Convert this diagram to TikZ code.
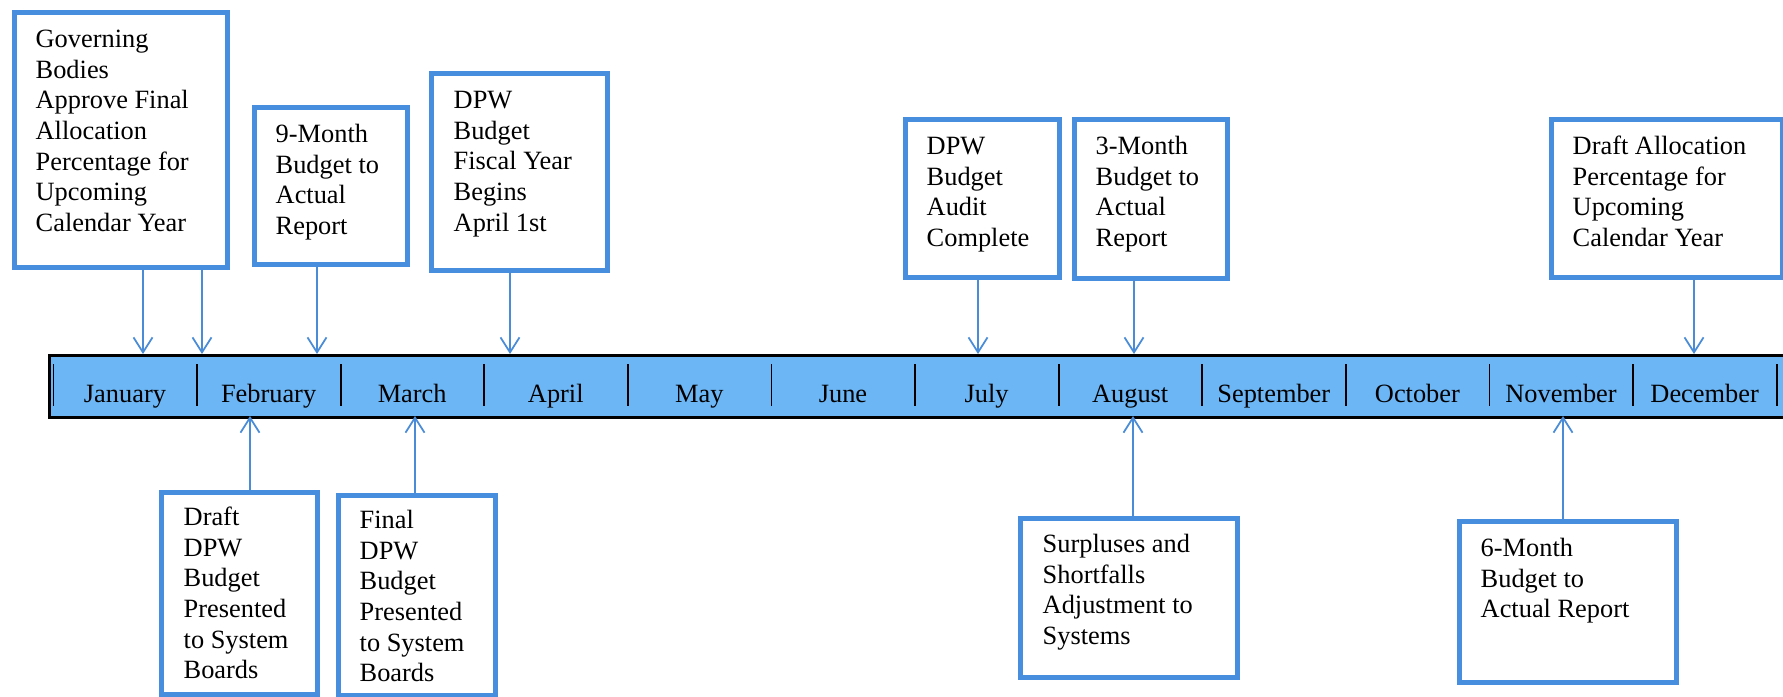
\documentclass[tikz,border=0pt]{standalone}
\usepackage{fontspec}
\setmainfont{Liberation Serif}
\usetikzlibrary{arrows.meta}
\definecolor{boxblue}{RGB}{72,142,222}
\definecolor{barblue}{RGB}{108,182,246}
\definecolor{arrowblue}{RGB}{74,140,214}

\begin{document}
\begin{tikzpicture}[x=0.01cm,y=-0.01cm,
event/.style={draw=boxblue,line width=1.3pt,fill=white,inner sep=0pt,anchor=north west},
eventtext/.style={anchor=north west,align=left,inner sep=0pt,font=\fontsize{7.5}{8.7}\selectfont},
month/.style={anchor=base,inner sep=0pt,font=\fontsize{7.5}{8.7}\selectfont},
timebar/.style={draw=black,line width=0.85pt,fill=barblue,inner sep=0pt,anchor=north west},
pointer/.style={draw=arrowblue,line width=0.45pt,-{Straight Barb[length=0.15cm,width=0.19cm,line width=0.5pt]}}
]
\useasboundingbox (0,0) rectangle (1783,696);

\node[timebar,minimum width=17.34cm,minimum height=0.62cm] (bar) at (48,354) {};
\foreach \k in {0,...,12}
  \draw[line width=0.55pt] ({53.5+143.6*\k},364) -- ({53.5+143.6*\k},406);
\foreach \m [count=\i] in {January,February,March,April,May,June,July,August,September,October,November,December}
  \node[month] (m\i) at ({125+143.6*(\i-1)},402) {\m};

\node[event,minimum width=2.13cm,minimum height=2.55cm] (gov) at (12,10) {};
\node[eventtext] (govtxt) at ([shift={(23,15.5)}]gov.north west) {\strut Governing\\Bodies\\Approve Final\\Allocation\\Percentage for\\Upcoming\\Calendar Year};
\node[event,minimum width=1.53cm,minimum height=1.57cm] (nine) at (252,105) {};
\node[eventtext] (ninetxt) at ([shift={(23,15.5)}]nine.north west) {\strut 9-Month\\Budget to\\Actual\\Report};
\node[event,minimum width=1.76cm,minimum height=1.97cm] (fiscal) at (429,71) {};
\node[eventtext] (fiscaltxt) at ([shift={(24,15.5)}]fiscal.north west) {\strut DPW\\Budget\\Fiscal Year\\Begins\\April 1st};
\node[event,minimum width=1.54cm,minimum height=1.58cm] (audit) at (903,117) {};
\node[eventtext] (audittxt) at ([shift={(23,15.5)}]audit.north west) {\strut DPW\\Budget\\Audit\\Complete};
\node[event,minimum width=1.53cm,minimum height=1.59cm] (three) at (1072,117) {};
\node[eventtext] (threetxt) at ([shift={(23,15.5)}]three.north west) {\strut 3-Month\\Budget to\\Actual\\Report};
\node[event,minimum width=2.31cm,minimum height=1.58cm] (alloc) at (1549,117) {};
\node[eventtext] (alloctxt) at ([shift={(23,15.5)}]alloc.north west) {\strut Draft Allocation\\Percentage for\\Upcoming\\Calendar Year};

\node[event,minimum width=1.56cm,minimum height=2.02cm] (draft) at (159,490) {};
\node[eventtext] (drafttxt) at ([shift={(24,13.5)}]draft.north west) {\strut Draft\\DPW\\Budget\\Presented\\to System\\Boards};
\node[event,minimum width=1.57cm,minimum height=2.00cm] (final) at (336,493) {};
\node[eventtext] (finaltxt) at ([shift={(23,13.5)}]final.north west) {\strut Final\\DPW\\Budget\\Presented\\to System\\Boards};
\node[event,minimum width=2.17cm,minimum height=1.59cm] (surplus) at (1018,516) {};
\node[eventtext] (surplustxt) at ([shift={(24,14.5)}]surplus.north west) {\strut Surpluses and\\Shortfalls\\Adjustment to\\Systems};
\node[event,minimum width=2.17cm,minimum height=1.61cm] (six) at (1457,519) {};
\node[eventtext] (sixtxt) at ([shift={(23,15.5)}]six.north west) {\strut 6-Month\\Budget to\\Actual Report};

\coordinate (d1) at (143,354);
\coordinate (d2) at (202,354);
\coordinate (d3) at (317,354);
\coordinate (d4) at (510,354);
\coordinate (d5) at (978,354);
\coordinate (d6) at (1134,354);
\coordinate (d7) at (1694,354);
\coordinate (u1) at (250,416);
\coordinate (u2) at (415,416);
\coordinate (u3) at (1133,416);
\coordinate (u4) at (1563,416);

\draw[pointer] (gov.south -| d1) -- (d1);
\draw[pointer] (gov.south -| d2) -- (d2);
\draw[pointer] (nine.south -| d3) -- (d3);
\draw[pointer] (fiscal.south -| d4) -- (d4);
\draw[pointer] (audit.south -| d5) -- (d5);
\draw[pointer] (three.south -| d6) -- (d6);
\draw[pointer] (alloc.south -| d7) -- (d7);
\draw[pointer] (draft.north -| u1) -- (u1);
\draw[pointer] (final.north -| u2) -- (u2);
\draw[pointer] (surplus.north -| u3) -- (u3);
\draw[pointer] (six.north -| u4) -- (u4);
\end{tikzpicture}
\end{document}
